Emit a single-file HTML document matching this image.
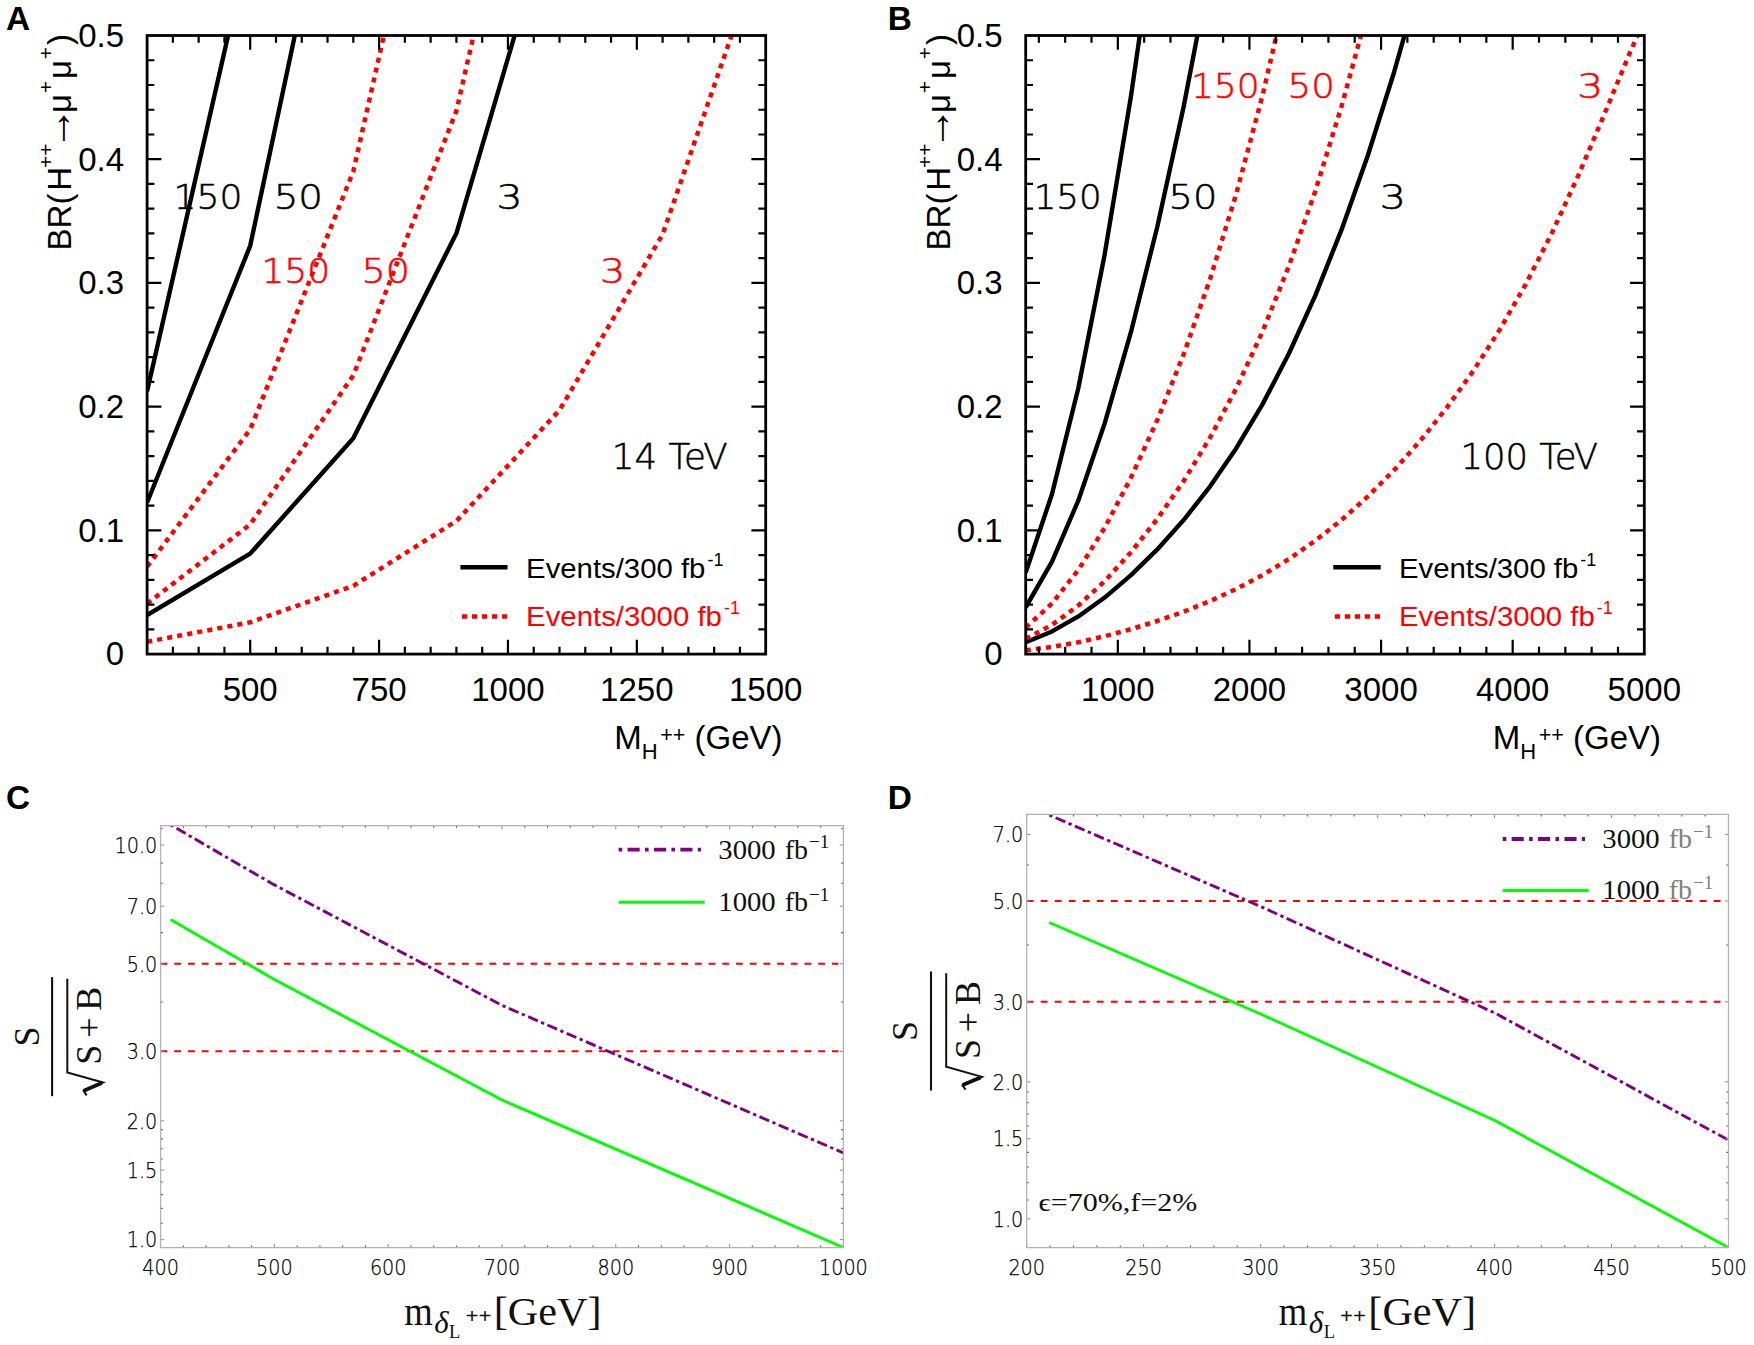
<!DOCTYPE html>
<html lang="en"><head><meta charset="utf-8"><title>Figure</title>
<style>html,body{margin:0;padding:0;background:#fff}svg{display:block}</style></head><body>
<svg width="1754" height="1345" viewBox="0 0 1754 1345">
<rect width="1754" height="1345" fill="#fff"/>
<g font-family='"Liberation Sans", Arial, Helvetica, sans-serif' font-weight="bold" font-size="33.4" fill="#000">
<text x="5.9" y="30.1">A</text><text x="887.8" y="30.1">B</text>
<text x="6.1" y="809.2">C</text><text x="887.8" y="809.2">D</text></g>
<g id="plotA">
<clipPath id="clipA"><rect x="147.1" y="35.5" width="618.6" height="618.6"/></clipPath>
<g clip-path="url(#clipA)" fill="none" stroke-linejoin="round">
<polyline points="147.1,391.32 250.2,-61.5" stroke="#000" stroke-width="4.4"/>
<polyline points="147.1,502.54 250.2,245.82 353.3,-240.15" stroke="#000" stroke-width="4.4"/>
<polyline points="147.1,615 250.2,553.64 353.3,438.21 456.4,233.33 559.5,-117.05 662.6,-673.04" stroke="#000" stroke-width="4.4"/>
<polyline points="147.1,566.68 250.2,429.46 353.3,171.35 456.4,-286.77 559.5,-1070.24" stroke="#ff0000" stroke-width="4.5" stroke-dasharray="5.1 5.1"/>
<polyline points="147.1,603.63 250.2,524.41 353.3,375.39 456.4,110.89 559.5,-341.45 662.6,-1059.24" stroke="#ff0000" stroke-width="4.5" stroke-dasharray="5.1 5.1"/>
<polyline points="147.1,641.74 250.2,622.33 353.3,585.83 456.4,521.04 559.5,410.24 662.6,234.42 765.7,-63.04" stroke="#ff0000" stroke-width="4.5" stroke-dasharray="5.1 5.1"/>
</g>
<path d="M172.88 654.1v-7.3M172.88 35.5v7.3M198.65 654.1v-7.3M198.65 35.5v7.3M224.43 654.1v-7.3M224.43 35.5v7.3M250.2 654.1v-14.3M250.2 35.5v14.3M275.98 654.1v-7.3M275.98 35.5v7.3M301.75 654.1v-7.3M301.75 35.5v7.3M327.52 654.1v-7.3M327.52 35.5v7.3M353.3 654.1v-7.3M353.3 35.5v7.3M379.08 654.1v-14.3M379.08 35.5v14.3M404.85 654.1v-7.3M404.85 35.5v7.3M430.62 654.1v-7.3M430.62 35.5v7.3M456.4 654.1v-7.3M456.4 35.5v7.3M482.18 654.1v-7.3M482.18 35.5v7.3M507.95 654.1v-14.3M507.95 35.5v14.3M533.73 654.1v-7.3M533.73 35.5v7.3M559.5 654.1v-7.3M559.5 35.5v7.3M585.28 654.1v-7.3M585.28 35.5v7.3M611.05 654.1v-7.3M611.05 35.5v7.3M636.83 654.1v-14.3M636.83 35.5v14.3M662.6 654.1v-7.3M662.6 35.5v7.3M688.38 654.1v-7.3M688.38 35.5v7.3M714.15 654.1v-7.3M714.15 35.5v7.3M739.93 654.1v-7.3M739.93 35.5v7.3M147.1 629.36h7.3M765.7 629.36h-7.3M147.1 604.61h7.3M765.7 604.61h-7.3M147.1 579.87h7.3M765.7 579.87h-7.3M147.1 555.12h7.3M765.7 555.12h-7.3M147.1 530.38h14.3M765.7 530.38h-14.3M147.1 505.64h7.3M765.7 505.64h-7.3M147.1 480.89h7.3M765.7 480.89h-7.3M147.1 456.15h7.3M765.7 456.15h-7.3M147.1 431.4h7.3M765.7 431.4h-7.3M147.1 406.66h14.3M765.7 406.66h-14.3M147.1 381.92h7.3M765.7 381.92h-7.3M147.1 357.17h7.3M765.7 357.17h-7.3M147.1 332.43h7.3M765.7 332.43h-7.3M147.1 307.68h7.3M765.7 307.68h-7.3M147.1 282.94h14.3M765.7 282.94h-14.3M147.1 258.2h7.3M765.7 258.2h-7.3M147.1 233.45h7.3M765.7 233.45h-7.3M147.1 208.71h7.3M765.7 208.71h-7.3M147.1 183.96h7.3M765.7 183.96h-7.3M147.1 159.22h14.3M765.7 159.22h-14.3M147.1 134.48h7.3M765.7 134.48h-7.3M147.1 109.73h7.3M765.7 109.73h-7.3M147.1 84.99h7.3M765.7 84.99h-7.3M147.1 60.24h7.3M765.7 60.24h-7.3" stroke="#000" stroke-width="2.2" fill="none"/>
<rect x="147.1" y="35.5" width="618.6" height="618.6" fill="none" stroke="#000" stroke-width="2.8"/>
<g font-family='"Liberation Sans", Arial, Helvetica, sans-serif' font-size="33" fill="#000">
<text x="124" y="665.4" text-anchor="end">0</text>
<text x="124" y="541.68" text-anchor="end">0.1</text>
<text x="124" y="417.96" text-anchor="end">0.2</text>
<text x="124" y="294.24" text-anchor="end">0.3</text>
<text x="124" y="170.52" text-anchor="end">0.4</text>
<text x="124" y="46.8" text-anchor="end">0.5</text>
<text x="250.2" y="701.3" text-anchor="middle">500</text>
<text x="379.08" y="701.3" text-anchor="middle">750</text>
<text x="507.95" y="701.3" text-anchor="middle">1000</text>
<text x="636.83" y="701.3" text-anchor="middle">1250</text>
<text x="765.7" y="701.3" text-anchor="middle">1500</text>
</g>
<g transform="translate(71,250.4) rotate(-90)" font-family='"Liberation Sans", Arial, Helvetica, sans-serif' font-size="33" fill="#000"><text x="0" y="0">BR(</text><text x="59.7" y="0">H</text><text x="82.4" y="-17.8" font-size="21">++</text><text x="122.1" y="0" font-size="43" text-anchor="middle">→</text><text x="146.9" y="0" text-anchor="middle">μ</text><text x="163.2" y="-17.8" font-size="21" text-anchor="middle">+</text><text x="181" y="0" text-anchor="middle">μ</text><text x="197.4" y="-17.8" font-size="21" text-anchor="middle">+</text><text x="211" y="0" text-anchor="middle">)</text></g>
<text x="614.3" y="749" font-family='"Liberation Sans", Arial, Helvetica, sans-serif' font-size="33" fill="#000">M<tspan font-size="22" dy="10.3">H</tspan><tspan font-size="21.5" dy="-17.3" dx="2.5">++</tspan><tspan dy="7"> (GeV)</tspan></text>
<text x="173.64" y="209.4" font-family='"DejaVu Sans Light", "DejaVu Sans", "Liberation Sans", sans-serif' font-weight="200" font-size="34.5" fill="#000" stroke="#000" stroke-width="0.55" textLength="68.8" lengthAdjust="spacingAndGlyphs">150</text>
<text x="273.68" y="209.4" font-family='"DejaVu Sans Light", "DejaVu Sans", "Liberation Sans", sans-serif' font-weight="200" font-size="34.5" fill="#000" stroke="#000" stroke-width="0.55" textLength="49.32" lengthAdjust="spacingAndGlyphs">50</text>
<text x="496.59" y="209.4" font-family='"DejaVu Sans Light", "DejaVu Sans", "Liberation Sans", sans-serif' font-weight="200" font-size="34.5" fill="#000" stroke="#000" stroke-width="0.55" textLength="26" lengthAdjust="spacingAndGlyphs">3</text>
<text x="261.44" y="283.4" font-family='"DejaVu Sans Light", "DejaVu Sans", "Liberation Sans", sans-serif' font-weight="200" font-size="34.5" fill="#ff0000" stroke="#ff0000" stroke-width="0.55" textLength="68.8" lengthAdjust="spacingAndGlyphs">150</text>
<text x="361.55" y="283.4" font-family='"DejaVu Sans Light", "DejaVu Sans", "Liberation Sans", sans-serif' font-weight="200" font-size="34.5" fill="#ff0000" stroke="#ff0000" stroke-width="0.55" textLength="48.38" lengthAdjust="spacingAndGlyphs">50</text>
<text x="599.99" y="283.4" font-family='"DejaVu Sans Light", "DejaVu Sans", "Liberation Sans", sans-serif' font-weight="200" font-size="34.5" fill="#ff0000" stroke="#ff0000" stroke-width="0.55" textLength="25.17" lengthAdjust="spacingAndGlyphs">3</text>
<text x="611.76" y="469.4" font-family='"DejaVu Sans Light", "DejaVu Sans", "Liberation Sans", sans-serif' font-weight="200" font-size="36" fill="#000" stroke="#000" stroke-width="0.55" textLength="115.83" lengthAdjust="spacingAndGlyphs">14 TeV</text>
<line x1="460.4" y1="567.3" x2="507.5" y2="567.3" stroke="#000" stroke-width="4.4"/>
<line x1="461.9" y1="616.6" x2="507.5" y2="616.6" stroke="#ff0000" stroke-width="4.5" stroke-dasharray="5.3 4.7"/>
<text x="526.1" y="578" font-family='"Liberation Sans", Arial, Helvetica, sans-serif' font-size="27.5" fill="#000"><tspan textLength="179.3" lengthAdjust="spacingAndGlyphs">Events/300 fb</tspan><tspan font-size="18" dy="-12.3" dx="2">-1</tspan></text>
<text x="526.1" y="626.4" font-family='"Liberation Sans", Arial, Helvetica, sans-serif' font-size="27.5" fill="#ff0000"><tspan textLength="195.8" lengthAdjust="spacingAndGlyphs">Events/3000 fb</tspan><tspan font-size="18" dy="-12.3" dx="2">-1</tspan></text>
</g>
<g id="plotB">
<clipPath id="clipB"><rect x="1025.7" y="35.5" width="618.6" height="618.6"/></clipPath>
<g clip-path="url(#clipB)" fill="none" stroke-linejoin="round">
<polyline points="1025.7,572.59 1052.02,493.97 1078.35,387.96 1104.67,254.45 1130.99,96.09 1157.32,-86.19 1183.64,-293.89 1209.96,-530.73" stroke="#000" stroke-width="4.4"/>
<polyline points="1025.7,607.28 1052.02,561.65 1078.35,500.45 1104.67,423.36 1130.99,331.93 1157.32,226.69 1183.64,106.78 1209.96,-29.96 1236.29,-186.56 1262.61,-366.46" stroke="#000" stroke-width="4.4"/>
<polyline points="1025.7,642.24 1052.02,631.45 1078.35,616.46 1104.67,597.58 1130.99,575.18 1157.32,549.41 1183.64,520.03 1209.96,486.54 1236.29,448.18 1262.61,404.11 1288.93,353.5 1315.26,295.56 1341.58,229.65 1367.9,155.22 1394.23,71.72 1420.55,-21.5 1446.87,-125.34 1473.2,-241.15 1499.52,-370.72" stroke="#000" stroke-width="4.4"/>
<polyline points="1025.7,627.58 1052.02,603.46 1078.35,569.94 1104.67,527.72 1130.99,477.64 1157.32,420 1183.64,354.32 1209.96,279.42 1236.29,193.65 1262.61,95.11 1288.93,-18.07 1315.26,-147.62 1341.58,-294.99 1367.9,-461.44" stroke="#ff0000" stroke-width="4.5" stroke-dasharray="5.1 5.1"/>
<polyline points="1025.7,638.79 1052.02,624.87 1078.35,605.51 1104.67,581.13 1130.99,552.22 1157.32,518.94 1183.64,481.02 1209.96,437.78 1236.29,388.26 1262.61,331.37 1288.93,266.02 1315.26,191.23 1341.58,106.14 1367.9,10.05 1394.23,-97.75 1420.55,-218.09 1446.87,-352.15 1473.2,-501.66" stroke="#ff0000" stroke-width="4.5" stroke-dasharray="5.1 5.1"/>
<polyline points="1025.7,650.35 1052.02,646.94 1078.35,642.2 1104.67,636.23 1130.99,629.14 1157.32,620.99 1183.64,611.7 1209.96,601.11 1236.29,588.98 1262.61,575.05 1288.93,559.04 1315.26,540.72 1341.58,519.88 1367.9,496.34 1394.23,469.93 1420.55,440.46 1446.87,407.62 1473.2,371 1499.52,330.02 1525.84,284.03 1552.17,232.44 1578.49,175.14 1604.81,113.15 1631.14,49.77 1657.46,-7.99 1683.79,-48.07" stroke="#ff0000" stroke-width="4.5" stroke-dasharray="5.1 5.1"/>
</g>
<path d="M1038.86 654.1v-7.3M1038.86 35.5v7.3M1065.19 654.1v-7.3M1065.19 35.5v7.3M1091.51 654.1v-7.3M1091.51 35.5v7.3M1117.83 654.1v-14.3M1117.83 35.5v14.3M1144.16 654.1v-7.3M1144.16 35.5v7.3M1170.48 654.1v-7.3M1170.48 35.5v7.3M1196.8 654.1v-7.3M1196.8 35.5v7.3M1223.13 654.1v-7.3M1223.13 35.5v7.3M1249.45 654.1v-14.3M1249.45 35.5v14.3M1275.77 654.1v-7.3M1275.77 35.5v7.3M1302.1 654.1v-7.3M1302.1 35.5v7.3M1328.42 654.1v-7.3M1328.42 35.5v7.3M1354.74 654.1v-7.3M1354.74 35.5v7.3M1381.07 654.1v-14.3M1381.07 35.5v14.3M1407.39 654.1v-7.3M1407.39 35.5v7.3M1433.71 654.1v-7.3M1433.71 35.5v7.3M1460.04 654.1v-7.3M1460.04 35.5v7.3M1486.36 654.1v-7.3M1486.36 35.5v7.3M1512.68 654.1v-14.3M1512.68 35.5v14.3M1539.01 654.1v-7.3M1539.01 35.5v7.3M1565.33 654.1v-7.3M1565.33 35.5v7.3M1591.65 654.1v-7.3M1591.65 35.5v7.3M1617.98 654.1v-7.3M1617.98 35.5v7.3M1025.7 629.36h7.3M1644.3 629.36h-7.3M1025.7 604.61h7.3M1644.3 604.61h-7.3M1025.7 579.87h7.3M1644.3 579.87h-7.3M1025.7 555.12h7.3M1644.3 555.12h-7.3M1025.7 530.38h14.3M1644.3 530.38h-14.3M1025.7 505.64h7.3M1644.3 505.64h-7.3M1025.7 480.89h7.3M1644.3 480.89h-7.3M1025.7 456.15h7.3M1644.3 456.15h-7.3M1025.7 431.4h7.3M1644.3 431.4h-7.3M1025.7 406.66h14.3M1644.3 406.66h-14.3M1025.7 381.92h7.3M1644.3 381.92h-7.3M1025.7 357.17h7.3M1644.3 357.17h-7.3M1025.7 332.43h7.3M1644.3 332.43h-7.3M1025.7 307.68h7.3M1644.3 307.68h-7.3M1025.7 282.94h14.3M1644.3 282.94h-14.3M1025.7 258.2h7.3M1644.3 258.2h-7.3M1025.7 233.45h7.3M1644.3 233.45h-7.3M1025.7 208.71h7.3M1644.3 208.71h-7.3M1025.7 183.96h7.3M1644.3 183.96h-7.3M1025.7 159.22h14.3M1644.3 159.22h-14.3M1025.7 134.48h7.3M1644.3 134.48h-7.3M1025.7 109.73h7.3M1644.3 109.73h-7.3M1025.7 84.99h7.3M1644.3 84.99h-7.3M1025.7 60.24h7.3M1644.3 60.24h-7.3" stroke="#000" stroke-width="2.2" fill="none"/>
<rect x="1025.7" y="35.5" width="618.6" height="618.6" fill="none" stroke="#000" stroke-width="2.8"/>
<g font-family='"Liberation Sans", Arial, Helvetica, sans-serif' font-size="33" fill="#000">
<text x="1002.6" y="665.4" text-anchor="end">0</text>
<text x="1002.6" y="541.68" text-anchor="end">0.1</text>
<text x="1002.6" y="417.96" text-anchor="end">0.2</text>
<text x="1002.6" y="294.24" text-anchor="end">0.3</text>
<text x="1002.6" y="170.52" text-anchor="end">0.4</text>
<text x="1002.6" y="46.8" text-anchor="end">0.5</text>
<text x="1117.83" y="701.3" text-anchor="middle">1000</text>
<text x="1249.45" y="701.3" text-anchor="middle">2000</text>
<text x="1381.07" y="701.3" text-anchor="middle">3000</text>
<text x="1512.68" y="701.3" text-anchor="middle">4000</text>
<text x="1644.3" y="701.3" text-anchor="middle">5000</text>
</g>
<g transform="translate(949.5,250.4) rotate(-90)" font-family='"Liberation Sans", Arial, Helvetica, sans-serif' font-size="33" fill="#000"><text x="0" y="0">BR(</text><text x="59.7" y="0">H</text><text x="82.4" y="-17.8" font-size="21">++</text><text x="122.1" y="0" font-size="43" text-anchor="middle">→</text><text x="146.9" y="0" text-anchor="middle">μ</text><text x="163.2" y="-17.8" font-size="21" text-anchor="middle">+</text><text x="181" y="0" text-anchor="middle">μ</text><text x="197.4" y="-17.8" font-size="21" text-anchor="middle">+</text><text x="211" y="0" text-anchor="middle">)</text></g>
<text x="1492.8" y="749" font-family='"Liberation Sans", Arial, Helvetica, sans-serif' font-size="33" fill="#000">M<tspan font-size="22" dy="10.3">H</tspan><tspan font-size="21.5" dy="-17.3" dx="2.5">++</tspan><tspan dy="7"> (GeV)</tspan></text>
<text x="1033.69" y="209.4" font-family='"DejaVu Sans Light", "DejaVu Sans", "Liberation Sans", sans-serif' font-weight="200" font-size="34.5" fill="#000" stroke="#000" stroke-width="0.55" textLength="67.91" lengthAdjust="spacingAndGlyphs">150</text>
<text x="1168.52" y="209.4" font-family='"DejaVu Sans Light", "DejaVu Sans", "Liberation Sans", sans-serif' font-weight="200" font-size="34.5" fill="#000" stroke="#000" stroke-width="0.55" textLength="48.73" lengthAdjust="spacingAndGlyphs">50</text>
<text x="1379.65" y="209.4" font-family='"DejaVu Sans Light", "DejaVu Sans", "Liberation Sans", sans-serif' font-weight="200" font-size="34.5" fill="#000" stroke="#000" stroke-width="0.55" textLength="26.28" lengthAdjust="spacingAndGlyphs">3</text>
<text x="1190.95" y="97.5" font-family='"DejaVu Sans Light", "DejaVu Sans", "Liberation Sans", sans-serif' font-weight="200" font-size="34.5" fill="#ff0000" stroke="#ff0000" stroke-width="0.55" textLength="68.69" lengthAdjust="spacingAndGlyphs">150</text>
<text x="1287.64" y="97.5" font-family='"DejaVu Sans Light", "DejaVu Sans", "Liberation Sans", sans-serif' font-weight="200" font-size="34.5" fill="#ff0000" stroke="#ff0000" stroke-width="0.55" textLength="47.2" lengthAdjust="spacingAndGlyphs">50</text>
<text x="1577.39" y="97.5" font-family='"DejaVu Sans Light", "DejaVu Sans", "Liberation Sans", sans-serif' font-weight="200" font-size="34.5" fill="#ff0000" stroke="#ff0000" stroke-width="0.55" textLength="26" lengthAdjust="spacingAndGlyphs">3</text>
<text x="1460.45" y="469.4" font-family='"DejaVu Sans Light", "DejaVu Sans", "Liberation Sans", sans-serif' font-weight="200" font-size="36" fill="#000" stroke="#000" stroke-width="0.55" textLength="137.56" lengthAdjust="spacingAndGlyphs">100 TeV</text>
<line x1="1333.3" y1="567.3" x2="1380.7" y2="567.3" stroke="#000" stroke-width="4.4"/>
<line x1="1334.8" y1="616.6" x2="1380.7" y2="616.6" stroke="#ff0000" stroke-width="4.5" stroke-dasharray="5.3 4.7"/>
<text x="1399" y="578" font-family='"Liberation Sans", Arial, Helvetica, sans-serif' font-size="27.5" fill="#000"><tspan textLength="179.3" lengthAdjust="spacingAndGlyphs">Events/300 fb</tspan><tspan font-size="18" dy="-12.3" dx="2">-1</tspan></text>
<text x="1399" y="626.4" font-family='"Liberation Sans", Arial, Helvetica, sans-serif' font-size="27.5" fill="#ff0000"><tspan textLength="195.8" lengthAdjust="spacingAndGlyphs">Events/3000 fb</tspan><tspan font-size="18" dy="-12.3" dx="2">-1</tspan></text>
</g>
<g id="plotC">
<clipPath id="clipC"><rect x="160.6" y="825.2" width="683.8" height="423.4"/></clipPath>
<line x1="160.6" y1="963.82" x2="838.4" y2="963.82" stroke="#ff0000" stroke-width="2" stroke-dasharray="6.85 6.85"/>
<line x1="160.6" y1="1051.35" x2="838.4" y2="1051.35" stroke="#ff0000" stroke-width="2" stroke-dasharray="6.85 6.85"/>
<g clip-path="url(#clipC)" fill="none" stroke-linejoin="round">
<polyline points="170.6,824.9 273.5,884.4 502,1005.4 843.4,1152.9" stroke="#800080" stroke-width="2.9" stroke-dasharray="10.5 3.6 3.3 3.6" stroke-dashoffset="14.1"/>
<polyline points="170.6,919.5 273.5,979 502,1100 843.4,1247.5" stroke="#00ff00" stroke-width="2.9"/>
</g>
<path d="M160.6 1247.6v-3.6M160.6 825.7v3.6M274.4 1247.6v-3.6M274.4 825.7v3.6M388.2 1247.6v-3.6M388.2 825.7v3.6M502 1247.6v-3.6M502 825.7v3.6M615.8 1247.6v-3.6M615.8 825.7v3.6M729.6 1247.6v-3.6M729.6 825.7v3.6M843.4 1247.6v-3.6M843.4 825.7v3.6M160.6 1239.6h3.6M843.4 1239.6h-3.6M160.6 1120.83h3.6M843.4 1120.83h-3.6M160.6 1051.35h3.6M843.4 1051.35h-3.6M160.6 963.82h3.6M843.4 963.82h-3.6M160.6 906.17h3.6M843.4 906.17h-3.6M160.6 845.05h3.6M843.4 845.05h-3.6M160.6 1170.12h3.6M843.4 1170.12h-3.6" stroke="#8a8a8a" stroke-width="1" fill="none"/>
<path d="M183.36 1247.6v-2.0M183.36 825.7v2.0M206.12 1247.6v-2.0M206.12 825.7v2.0M228.88 1247.6v-2.0M228.88 825.7v2.0M251.64 1247.6v-2.0M251.64 825.7v2.0M297.16 1247.6v-2.0M297.16 825.7v2.0M319.92 1247.6v-2.0M319.92 825.7v2.0M342.68 1247.6v-2.0M342.68 825.7v2.0M365.44 1247.6v-2.0M365.44 825.7v2.0M410.96 1247.6v-2.0M410.96 825.7v2.0M433.72 1247.6v-2.0M433.72 825.7v2.0M456.48 1247.6v-2.0M456.48 825.7v2.0M479.24 1247.6v-2.0M479.24 825.7v2.0M524.76 1247.6v-2.0M524.76 825.7v2.0M547.52 1247.6v-2.0M547.52 825.7v2.0M570.28 1247.6v-2.0M570.28 825.7v2.0M593.04 1247.6v-2.0M593.04 825.7v2.0M638.56 1247.6v-2.0M638.56 825.7v2.0M661.32 1247.6v-2.0M661.32 825.7v2.0M684.08 1247.6v-2.0M684.08 825.7v2.0M706.84 1247.6v-2.0M706.84 825.7v2.0M752.36 1247.6v-2.0M752.36 825.7v2.0M775.12 1247.6v-2.0M775.12 825.7v2.0M797.88 1247.6v-2.0M797.88 825.7v2.0M820.64 1247.6v-2.0M820.64 825.7v2.0M160.6 1002.06h2.2M843.4 1002.06h-2.2M160.6 932.58h2.2M843.4 932.58h-2.2M160.6 883.29h2.2M843.4 883.29h-2.2M160.6 863.11h2.2M843.4 863.11h-2.2M160.6 828.72h2.2M843.4 828.72h-2.2M160.6 1223.27h2.2M843.4 1223.27h-2.2M160.6 1208.36h2.2M843.4 1208.36h-2.2M160.6 1194.64h2.2M843.4 1194.64h-2.2M160.6 1181.95h2.2M843.4 1181.95h-2.2M160.6 1159.06h2.2M843.4 1159.06h-2.2M160.6 1148.68h2.2M843.4 1148.68h-2.2M160.6 1138.88h2.2M843.4 1138.88h-2.2M160.6 1129.62h2.2M843.4 1129.62h-2.2" stroke="#555" stroke-width="1.1" fill="none"/>
<rect x="160.6" y="825.7" width="682.8" height="421.9" fill="none" stroke="#b2b2b2" stroke-width="1.3"/>
<g font-family='"DejaVu Sans Light", "DejaVu Sans", "Liberation Sans", sans-serif' font-weight="200" font-size="21.3" fill="#000" stroke="#000" stroke-width="0.25">
<text x="114.52" y="852.75" textLength="42.68" lengthAdjust="spacingAndGlyphs">10.0</text>
<text x="126.71" y="913.87" textLength="30.49" lengthAdjust="spacingAndGlyphs">7.0</text>
<text x="126.71" y="971.52" textLength="30.49" lengthAdjust="spacingAndGlyphs">5.0</text>
<text x="126.71" y="1059.05" textLength="30.49" lengthAdjust="spacingAndGlyphs">3.0</text>
<text x="126.71" y="1128.53" textLength="30.49" lengthAdjust="spacingAndGlyphs">2.0</text>
<text x="126.71" y="1177.82" textLength="30.49" lengthAdjust="spacingAndGlyphs">1.5</text>
<text x="126.71" y="1247.3" textLength="30.49" lengthAdjust="spacingAndGlyphs">1.0</text>
<text x="142.31" y="1274.5" textLength="36.59" lengthAdjust="spacingAndGlyphs">400</text>
<text x="256.11" y="1274.5" textLength="36.59" lengthAdjust="spacingAndGlyphs">500</text>
<text x="369.91" y="1274.5" textLength="36.59" lengthAdjust="spacingAndGlyphs">600</text>
<text x="483.71" y="1274.5" textLength="36.59" lengthAdjust="spacingAndGlyphs">700</text>
<text x="597.51" y="1274.5" textLength="36.59" lengthAdjust="spacingAndGlyphs">800</text>
<text x="711.31" y="1274.5" textLength="36.59" lengthAdjust="spacingAndGlyphs">900</text>
<text x="819.01" y="1274.5" textLength="48.79" lengthAdjust="spacingAndGlyphs">1000</text>
</g>
<line x1="618.6" y1="849.7" x2="700.9" y2="849.7" stroke="#800080" stroke-width="3.8" stroke-dasharray="12.1 5.35 3.6 5.35" stroke-dashoffset="17.45"/>
<line x1="618.6" y1="902.2" x2="704.7" y2="902.2" stroke="#00ff00" stroke-width="3"/>
<text x="718.3" y="858.8" font-family='"Liberation Serif", "DejaVu Serif", serif' font-size="28" fill="#111"><tspan textLength="57.4" lengthAdjust="spacingAndGlyphs">3000</tspan><tspan fill="#111" dx="2"> fb</tspan><tspan fill="#111" font-size="19" dy="-10.5" dx="1">−1</tspan></text>
<text x="718.3" y="911" font-family='"Liberation Serif", "DejaVu Serif", serif' font-size="28" fill="#111"><tspan textLength="57.4" lengthAdjust="spacingAndGlyphs">1000</tspan><tspan fill="#111" dx="2"> fb</tspan><tspan fill="#111" font-size="19" dy="-10.5" dx="1">−1</tspan></text>
<g transform="translate(52.1,1036.65) rotate(-90)" fill="#111" font-family='"Liberation Serif", "DejaVu Serif", serif' font-size="36">
<line x1="-59.5" y1="0" x2="59.5" y2="0" stroke="#111" stroke-width="2.1"/>
<text x="0.1" y="-13.6" text-anchor="middle">S</text>
<text x="-28" y="48.8" textLength="78" lengthAdjust="spacing">S+B</text>
<path d="M-58.7 34.6 L-54.4 31.6 L-45.9 51 L-35.8 15.2 L57.8 15.2" fill="none" stroke="#111" stroke-width="2" stroke-linejoin="miter"/>
<path d="M-54 31.6 L-46.4 49.6" fill="none" stroke="#111" stroke-width="3.8"/>
</g>
<text x="404.2" y="1325.2" font-family='"Liberation Serif", "DejaVu Serif", serif' font-size="41" fill="#111"><tspan textLength="28.5" lengthAdjust="spacingAndGlyphs">m</tspan><tspan font-size="31" font-style="italic" dy="8" dx="1.5">δ</tspan><tspan font-size="18.5" dy="5" dx="0.5">L</tspan><tspan font-size="20" dy="-15" dx="5" font-family='"Liberation Sans", Arial, Helvetica, sans-serif' textLength="26" lengthAdjust="spacingAndGlyphs">++</tspan><tspan dy="2" dx="2.3" textLength="107.8" lengthAdjust="spacingAndGlyphs">[GeV]</tspan></text>
</g>
<g id="plotD">
<clipPath id="clipD"><rect x="1026.7" y="813.9" width="702.8" height="434.7"/></clipPath>
<line x1="1026.7" y1="900.94" x2="1723.5" y2="900.94" stroke="#ff0000" stroke-width="2" stroke-dasharray="6.85 7.17"/>
<line x1="1026.7" y1="1001.82" x2="1723.5" y2="1001.82" stroke="#ff0000" stroke-width="2" stroke-dasharray="6.85 7.17"/>
<g clip-path="url(#clipD)" fill="none" stroke-linejoin="round">
<polyline points="1049.3,815 1260.6,906.5 1494.9,1013 1728.3,1140" stroke="#800080" stroke-width="2.9" stroke-dasharray="10.5 3.6 3.3 3.6" stroke-dashoffset="14.1"/>
<polyline points="1049.3,922.5 1260.6,1014 1494.9,1120.5 1728.3,1247.5" stroke="#00ff00" stroke-width="2.9"/>
</g>
<path d="M1026.7 1247.6v-3.6M1026.7 814.4v3.6M1143.67 1247.6v-3.6M1143.67 814.4v3.6M1260.63 1247.6v-3.6M1260.63 814.4v3.6M1377.6 1247.6v-3.6M1377.6 814.4v3.6M1494.57 1247.6v-3.6M1494.57 814.4v3.6M1611.53 1247.6v-3.6M1611.53 814.4v3.6M1728.5 1247.6v-3.6M1728.5 814.4v3.6M1026.7 1218.8h3.6M1728.5 1218.8h-3.6M1026.7 1081.9h3.6M1728.5 1081.9h-3.6M1026.7 1001.82h3.6M1728.5 1001.82h-3.6M1026.7 900.94h3.6M1728.5 900.94h-3.6M1026.7 834.48h3.6M1728.5 834.48h-3.6M1026.7 1138.72h3.6M1728.5 1138.72h-3.6" stroke="#8a8a8a" stroke-width="1" fill="none"/>
<path d="M1050.09 1247.6v-2.0M1050.09 814.4v2.0M1073.49 1247.6v-2.0M1073.49 814.4v2.0M1096.88 1247.6v-2.0M1096.88 814.4v2.0M1120.27 1247.6v-2.0M1120.27 814.4v2.0M1167.06 1247.6v-2.0M1167.06 814.4v2.0M1190.45 1247.6v-2.0M1190.45 814.4v2.0M1213.85 1247.6v-2.0M1213.85 814.4v2.0M1237.24 1247.6v-2.0M1237.24 814.4v2.0M1284.03 1247.6v-2.0M1284.03 814.4v2.0M1307.42 1247.6v-2.0M1307.42 814.4v2.0M1330.81 1247.6v-2.0M1330.81 814.4v2.0M1354.21 1247.6v-2.0M1354.21 814.4v2.0M1400.99 1247.6v-2.0M1400.99 814.4v2.0M1424.39 1247.6v-2.0M1424.39 814.4v2.0M1447.78 1247.6v-2.0M1447.78 814.4v2.0M1471.17 1247.6v-2.0M1471.17 814.4v2.0M1517.96 1247.6v-2.0M1517.96 814.4v2.0M1541.35 1247.6v-2.0M1541.35 814.4v2.0M1564.75 1247.6v-2.0M1564.75 814.4v2.0M1588.14 1247.6v-2.0M1588.14 814.4v2.0M1634.93 1247.6v-2.0M1634.93 814.4v2.0M1658.32 1247.6v-2.0M1658.32 814.4v2.0M1681.71 1247.6v-2.0M1681.71 814.4v2.0M1705.11 1247.6v-2.0M1705.11 814.4v2.0M1026.7 945.01h2.2M1728.5 945.01h-2.2M1026.7 864.93h2.2M1728.5 864.93h-2.2M1026.7 1199.98h2.2M1728.5 1199.98h-2.2M1026.7 1182.79h2.2M1728.5 1182.79h-2.2M1026.7 1166.98h2.2M1728.5 1166.98h-2.2M1026.7 1152.35h2.2M1728.5 1152.35h-2.2M1026.7 1125.97h2.2M1728.5 1125.97h-2.2M1026.7 1114h2.2M1728.5 1114h-2.2M1026.7 1102.71h2.2M1728.5 1102.71h-2.2M1026.7 1092.03h2.2M1728.5 1092.03h-2.2" stroke="#555" stroke-width="1.1" fill="none"/>
<rect x="1026.7" y="814.4" width="701.8" height="433.2" fill="none" stroke="#b2b2b2" stroke-width="1.3"/>
<g font-family='"DejaVu Sans Light", "DejaVu Sans", "Liberation Sans", sans-serif' font-weight="200" font-size="21.3" fill="#000" stroke="#000" stroke-width="0.25">
<text x="992.81" y="842.18" textLength="30.49" lengthAdjust="spacingAndGlyphs">7.0</text>
<text x="992.81" y="908.64" textLength="30.49" lengthAdjust="spacingAndGlyphs">5.0</text>
<text x="992.81" y="1009.52" textLength="30.49" lengthAdjust="spacingAndGlyphs">3.0</text>
<text x="992.81" y="1089.6" textLength="30.49" lengthAdjust="spacingAndGlyphs">2.0</text>
<text x="992.81" y="1146.42" textLength="30.49" lengthAdjust="spacingAndGlyphs">1.5</text>
<text x="992.81" y="1226.5" textLength="30.49" lengthAdjust="spacingAndGlyphs">1.0</text>
<text x="1008.41" y="1274.5" textLength="36.59" lengthAdjust="spacingAndGlyphs">200</text>
<text x="1125.37" y="1274.5" textLength="36.59" lengthAdjust="spacingAndGlyphs">250</text>
<text x="1242.34" y="1274.5" textLength="36.59" lengthAdjust="spacingAndGlyphs">300</text>
<text x="1359.31" y="1274.5" textLength="36.59" lengthAdjust="spacingAndGlyphs">350</text>
<text x="1476.27" y="1274.5" textLength="36.59" lengthAdjust="spacingAndGlyphs">400</text>
<text x="1593.24" y="1274.5" textLength="36.59" lengthAdjust="spacingAndGlyphs">450</text>
<text x="1710.21" y="1274.5" textLength="36.59" lengthAdjust="spacingAndGlyphs">500</text>
</g>
<line x1="1502.7" y1="839" x2="1585" y2="839" stroke="#800080" stroke-width="3.8" stroke-dasharray="12.1 5.35 3.6 5.35" stroke-dashoffset="17.45"/>
<line x1="1502.7" y1="890.4" x2="1588.7" y2="890.4" stroke="#00ff00" stroke-width="3"/>
<text x="1602.3" y="848.1" font-family='"Liberation Serif", "DejaVu Serif", serif' font-size="28" fill="#111"><tspan textLength="57.4" lengthAdjust="spacingAndGlyphs">3000</tspan><tspan fill="#808080" dx="2"> fb</tspan><tspan fill="#808080" font-size="19" dy="-10.5" dx="1">−1</tspan></text>
<text x="1602.3" y="899.2" font-family='"Liberation Serif", "DejaVu Serif", serif' font-size="28" fill="#111"><tspan textLength="57.4" lengthAdjust="spacingAndGlyphs">1000</tspan><tspan fill="#808080" dx="2"> fb</tspan><tspan fill="#808080" font-size="19" dy="-10.5" dx="1">−1</tspan></text>
<g transform="translate(931,1031) rotate(-90)" fill="#111" font-family='"Liberation Serif", "DejaVu Serif", serif' font-size="36">
<line x1="-59.5" y1="0" x2="59.5" y2="0" stroke="#111" stroke-width="2.1"/>
<text x="0.1" y="-13.6" text-anchor="middle">S</text>
<text x="-28" y="48.8" textLength="78" lengthAdjust="spacing">S+B</text>
<path d="M-58.7 34.6 L-54.4 31.6 L-45.9 51 L-35.8 15.2 L57.8 15.2" fill="none" stroke="#111" stroke-width="2" stroke-linejoin="miter"/>
<path d="M-54 31.6 L-46.4 49.6" fill="none" stroke="#111" stroke-width="3.8"/>
</g>
<text x="1278.8" y="1325.2" font-family='"Liberation Serif", "DejaVu Serif", serif' font-size="41" fill="#111"><tspan textLength="28.5" lengthAdjust="spacingAndGlyphs">m</tspan><tspan font-size="31" font-style="italic" dy="8" dx="1.5">δ</tspan><tspan font-size="18.5" dy="5" dx="0.5">L</tspan><tspan font-size="20" dy="-15" dx="5" font-family='"Liberation Sans", Arial, Helvetica, sans-serif' textLength="26" lengthAdjust="spacingAndGlyphs">++</tspan><tspan dy="2" dx="2.3" textLength="107.8" lengthAdjust="spacingAndGlyphs">[GeV]</tspan></text>
<text x="1038.6" y="1211.4" font-family='"Liberation Serif", "DejaVu Serif", serif' font-size="25" fill="#111" textLength="158.8" lengthAdjust="spacingAndGlyphs">ϵ=70%,f=2%</text>
</g>
</svg></body></html>
